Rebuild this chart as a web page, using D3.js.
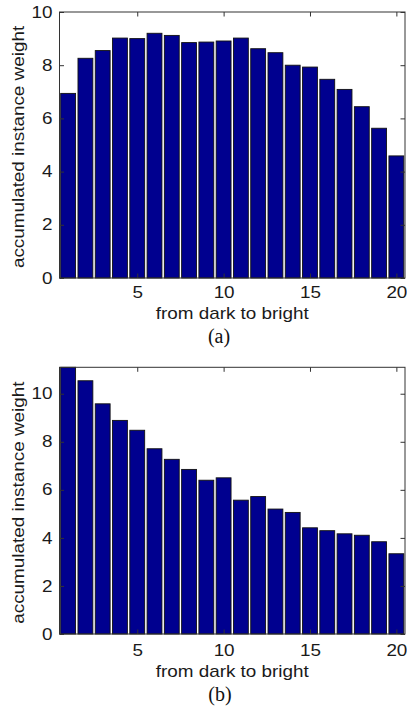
<!DOCTYPE html>
<html>
<head>
<meta charset="utf-8">
<script src="https://cdn.jsdelivr.net/npm/d3@7"></script>
<style>
  body { margin: 0; background: #fff; }
  svg { display: block; }
</style>
</head>
<body>
<div id="canvas"></div>
<script>
// bins along the x axis, 1..20
const bins = d3.range(1, 21);

// accumulated instance weight per bin
const weightsA = [6.94, 8.26, 8.55, 9.02, 9.0, 9.2, 9.12, 8.85, 8.87, 8.91,
                  9.02, 8.62, 8.47, 8.0, 7.93, 7.47, 7.09, 6.44, 5.63, 4.59];
const weightsB = [11.1, 10.54, 9.58, 8.89, 8.48, 7.71, 7.27, 6.85, 6.4, 6.5,
                  5.57, 5.72, 5.2, 5.06, 4.42, 4.3, 4.17, 4.11, 3.84, 3.34];

const xTicks = [5, 10, 15, 20];
const yTicksA = [0, 2, 4, 6, 8, 10];
const yTicksB = [0, 2, 4, 6, 8, 10];

const xLabel = "from dark to bright";
const yLabel = "accumulated instance weight";
const captions = ["(a)", "(b)"];

// Globals
const width = 407;
const height = 707;
const barColor = "#00008f";
const inkColor = "#1a1a1a";
const sans = "'Liberation Sans', Arial, sans-serif";
const stretch = "scale(1.18,1)"; // the figure's font runs wider than Arial

let svg = d3.select('#canvas').append('svg')
  .attr('width', width)
  .attr('height', height);

// one entry per panel: plot box + where its texts sit
let panels = [{
  values: weightsA, yMax: 10, yTicks: yTicksA, caption: captions[0],
  top: 12, bottom: 278, tickPad: 8.5, xLabelY: 318.5, capX: 219, capY: 343
}, {
  values: weightsB, yMax: 11.1, yTicks: yTicksB, caption: captions[1],
  top: 367.3, bottom: 634, tickPad: 10.5, xLabelY: 676.5, capX: 220, capY: 701
}];

const left = 59.5;
const right = 405;

panels.forEach(drawPanel);

function drawPanel(p) {
  let x = d3.scaleLinear().domain([0.5, 20.5]).range([left, right]);
  let y = d3.scaleLinear().domain([0, p.yMax]).range([p.bottom, p.top]);
  let bw = (x(2) - x(1)) * 0.86;

  let g = svg.append('g');

  // bars
  g.selectAll('.bar').data(bins).enter()
    .append('rect')
    .classed('bar', true)
    .attr('x', d => x(d) - bw / 2)
    .attr('y', (d, i) => y(p.values[i]))
    .attr('width', bw)
    .attr('height', (d, i) => y(0) - y(p.values[i]))
    .style('fill', barColor)
    .style('stroke', '#111')
    .style('stroke-width', 0.9);

  // left axis with labels, ticks pointing in
  let yAx = g.append('g')
    .attr('transform', `translate(${left},0)`)
    .call(d3.axisLeft(y).tickValues(p.yTicks).tickSizeInner(-4.5).tickSizeOuter(0).tickPadding(6));
  // bottom axis with labels
  let xAx = g.append('g')
    .attr('transform', `translate(0,${p.bottom})`)
    .call(d3.axisBottom(x).tickValues(xTicks).tickSizeInner(-4.5).tickSizeOuter(0).tickPadding(p.tickPad));
  // mirrored ticks on top and right, no labels
  let tAx = g.append('g')
    .attr('transform', `translate(0,${p.top})`)
    .call(d3.axisTop(x).tickValues(xTicks).tickSizeInner(-4.5).tickSizeOuter(0).tickFormat(''));
  let rAx = g.append('g')
    .attr('transform', `translate(${right},0)`)
    .call(d3.axisRight(y).tickValues(p.yTicks).tickSizeInner(-4.5).tickSizeOuter(0).tickFormat(''));

  [yAx, xAx, tAx, rAx].forEach(a => {
    a.select('.domain').remove();
    a.selectAll('line').attr('stroke', '#333');
  });
  [yAx, xAx].forEach(a => {
    a.selectAll('text')
      .attr('font-family', sans)
      .attr('font-size', 16)
      .attr('fill', inkColor)
      .attr('transform', stretch);
  });

  // box round the plot
  g.append('rect')
    .attr('x', left)
    .attr('y', p.top)
    .attr('width', right - left)
    .attr('height', p.bottom - p.top)
    .style('fill', 'none')
    .style('stroke', '#333')
    .style('stroke-width', 1);

  // axis titles
  g.append('text')
    .attr('transform', `translate(${(left + right) / 2},${p.xLabelY}) ${stretch}`)
    .attr('text-anchor', 'middle')
    .attr('font-family', sans)
    .attr('font-size', 16)
    .attr('fill', inkColor)
    .text(xLabel);

  g.append('text')
    .attr('transform', `translate(23.5,${(p.top + p.bottom) / 2 + 2}) rotate(-90) ${stretch}`)
    .attr('text-anchor', 'middle')
    .attr('font-family', sans)
    .attr('font-size', 16)
    .attr('fill', inkColor)
    .text(yLabel);

  // panel caption
  g.append('text')
    .attr('x', p.capX)
    .attr('y', p.capY)
    .attr('text-anchor', 'middle')
    .attr('font-family', "'Liberation Serif', 'Times New Roman', serif")
    .attr('font-size', 20)
    .attr('fill', '#111')
    .text(p.caption);
}
</script>
</body>
</html>
